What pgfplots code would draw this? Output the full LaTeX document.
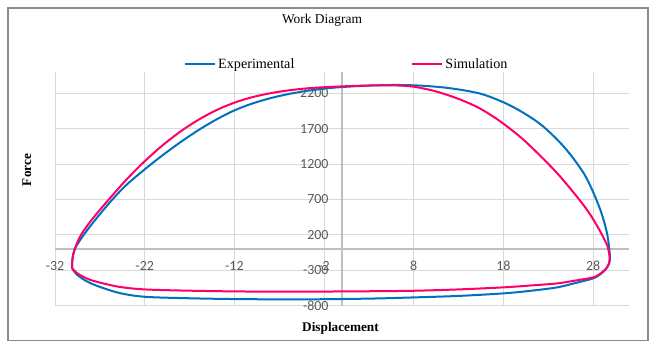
\documentclass[border=0pt]{standalone}
\usepackage{fontspec}
\setmainfont{Liberation Serif}
\newfontfamily\tickfont{Carlito}
\usepackage{pgfplots}
\pgfplotsset{compat=1.18}

\definecolor{expblue}{HTML}{0070C0}
\definecolor{simpink}{HTML}{FF0066}
\definecolor{gridgray}{HTML}{D9D9D9}
\definecolor{axisgray}{HTML}{BFBFBF}
\definecolor{labelgray}{HTML}{595959}
\definecolor{framegray}{HTML}{8C8C8C}

\begin{document}
\begin{tikzpicture}
% frame of the chart area
\draw[framegray, line width=1.2bp] (8bp,-8bp) rectangle (648bp,-340.5bp);

% titles
\node[anchor=base, font=\fontsize{13.5}{16}\selectfont] at (322bp,-23.5bp) {Work Diagram};
\node[anchor=base, font=\bfseries\fontsize{13.3}{16}\selectfont] at (340.5bp,-331bp) {Displacement};
\node[anchor=base, rotate=90, font=\bfseries\fontsize{13.3}{16}\selectfont] at (31bp,-170bp) {Force};

\begin{axis}[
  at={(55bp,-305.7bp)}, anchor=south west,
  scale only axis, width=574bp, height=233.7bp,
  xmin=-32, xmax=32, ymin=-800, ymax=2500,
  axis lines=middle,
  axis line style={-, draw=axisgray, line width=1.2bp},
  xtick={-32,-22,...,28}, ytick={-800,-300,...,2200},
  grid=major, major grid style={draw=gridgray, line width=0.9bp},
  major tick length=0pt,
  tick label style={font=\tickfont\fontsize{14}{16}\selectfont, text=labelgray},
  /pgf/number format/assume math mode=true,
  /pgf/number format/set thousands separator={},
  xticklabel style={anchor=north, yshift=-8.6bp},
  yticklabel style={anchor=east, xshift=-10bp},
  set layers,
  legend columns=2,
  legend style={at={(0.2248,1.0342)}, anchor=west, draw=none, fill=none,
    inner sep=0pt, font=\fontsize{14.2}{16}\selectfont,
    /tikz/every even column/.append style={column sep=115bp}},
  legend image code/.code={\draw[#1] (0bp,0bp) -- (30bp,0bp);},
]

\addplot[expblue, line width=2bp, smooth, tension=0.5] coordinates {
  (-30.1,-270) (-30.05,-140) (-29.8,0) (-28.8,200) (-27.4,430) (-25.6,700)
  (-24,910) (-22,1125) (-20,1325) (-18,1510) (-16,1680) (-14,1830)
  (-12,1958) (-10,2055) (-8,2130) (-6,2188) (-4,2232) (-2,2265)
  (0,2288) (3,2308) (6,2317) (9,2306) (12.1,2270) (15.6,2188)
  (18.9,2018) (22.1,1765) (24.8,1436) (27.1,1039) (28.7,590) (29.5,251)
  (29.8,2) (29.87,-150) (29.6,-250)
  (28.9,-345) (28,-414) (26,-480) (24,-541) (21,-590) (18,-626)
  (13,-662) (8,-683) (3,-700) (-4.8,-711) (-12,-706) (-17,-695)
  (-22,-674) (-25,-615) (-28,-485) (-29.5,-367) (-30.1,-270)
};
\addlegendentry{Experimental}

\addplot[simpink, line width=2bp, smooth, tension=0.5] coordinates {
  (-30.1,-270) (-30.05,-140) (-29.8,0) (-29.1,200) (-27.8,430) (-26,700)
  (-24,985) (-22,1240) (-20,1465) (-18,1661) (-16,1826) (-14,1962)
  (-12,2067) (-10,2145) (-8,2200) (-6,2240) (-4,2268) (-2,2285)
  (1,2302) (4,2312) (6,2310) (8,2293) (10.5,2225) (13,2120)
  (15,2010) (16.5,1900) (18,1770) (20,1570) (22,1330) (24,1070)
  (26,770) (27.5,520) (28.7,270) (29.6,40) (29.85,-150) (29.6,-250)
  (28.9,-340) (28,-400) (26,-445) (24,-485) (21,-515) (18,-541)
  (13,-570) (8,-589) (3,-596) (-2,-600) (-8,-601) (-12,-598)
  (-17,-588) (-22,-570) (-25,-530) (-28,-438) (-29.5,-344) (-30.1,-270)
};
\addlegendentry{Simulation}

\end{axis}
% the page is exactly the chart area
\pgfresetboundingbox
\path[use as bounding box] (0,0) rectangle (659bp,-342bp);
\end{tikzpicture}
\end{document}
